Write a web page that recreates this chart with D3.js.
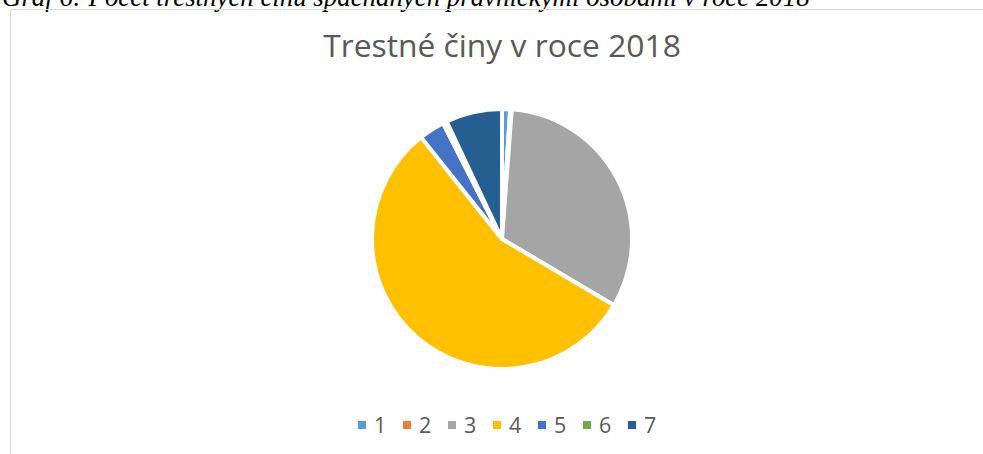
<!DOCTYPE html>
<html>
<head>
<meta charset="utf-8">
<script src="https://cdn.jsdelivr.net/npm/d3@7"></script>
<style>
  body { margin: 0; background: #fff; }
  svg { display: block; }
</style>
</head>
<body>
<div id="chart"></div>
<script>
var categories = ['1', '2', '3', '4', '5', '6', '7'];
var values = [10, 2, 323, 558, 32, 5, 70];
var colors = ['#5B9BD5', '#ED7D31', '#A5A5A5', '#FFC000', '#4472C4', '#70AD47', '#255E91'];

var caption = 'Graf 6: Počet trestných činů spáchaných právnickými osobami v roce 2018';
var title = 'Trestné činy v roce 2018';

var width = 983, height = 454;

var svg = d3.select('#chart').append('svg')
    .attr('width', width)
    .attr('height', height);

// caption above the chart, cut by the top edge
var cap = svg.append('text')
    .attr('x', 2)
    .attr('y', 6)
    .style('font-family', '"Liberation Serif", "Times New Roman", serif')
    .style('font-style', 'italic')
    .style('font-size', '20px')
    .attr('fill', '#000')
    .text(caption);
var capLen = cap.node().getComputedTextLength();
cap.style('font-size', (20 * 808 / capLen) + 'px');

// chart frame (only top & left visible)
svg.append('path')
    .attr('d', 'M10.5,' + height + 'V9.5H' + width)
    .attr('fill', 'none')
    .attr('stroke', '#d9d9d9')
    .attr('stroke-width', 1);

// title
var t = svg.append('text')
    .attr('x', 502)
    .attr('y', 57)
    .attr('text-anchor', 'middle')
    .style('font-family', '"Open Sans", sans-serif')
    .style('font-size', '26px')
    .attr('fill', '#595959')
    .text(title);
var tLen = t.node().getComputedTextLength();
t.style('font-size', (26 * 358 / tLen) + 'px');

// pie
var cx = 502, cy = 239, r = 130;
var pie = d3.pie().sort(null).value(function(d){ return d; });
var arc = d3.arc().innerRadius(0).outerRadius(r);

svg.append('g')
    .attr('transform', 'translate(' + cx + ',' + cy + ')')
    .selectAll('path')
    .data(pie(values))
    .enter()
    .append('path')
    .attr('d', arc)
    .attr('fill', function(d, i){ return colors[i]; })
    .attr('stroke', '#fff')
    .attr('stroke-width', 4)
    .attr('stroke-linejoin', 'round');

// legend
var x = d3.scaleBand()
    .domain(categories)
    .range([358, 673]);

var items = svg.append('g')
    .selectAll('g')
    .data(categories)
    .enter()
    .append('g')
    .attr('transform', function(d){ return 'translate(' + x(d) + ',0)'; });

items.append('rect')
    .attr('x', 0)
    .attr('y', 421)
    .attr('width', 8)
    .attr('height', 8)
    .attr('fill', function(d, i){ return colors[i]; });

items.append('text')
    .attr('x', 16)
    .attr('y', 432.5)
    .style('font-family', '"Open Sans", sans-serif')
    .style('font-size', '21.5px')
    .attr('fill', '#595959')
    .text(function(d){ return d; });
</script>
</body>
</html>
